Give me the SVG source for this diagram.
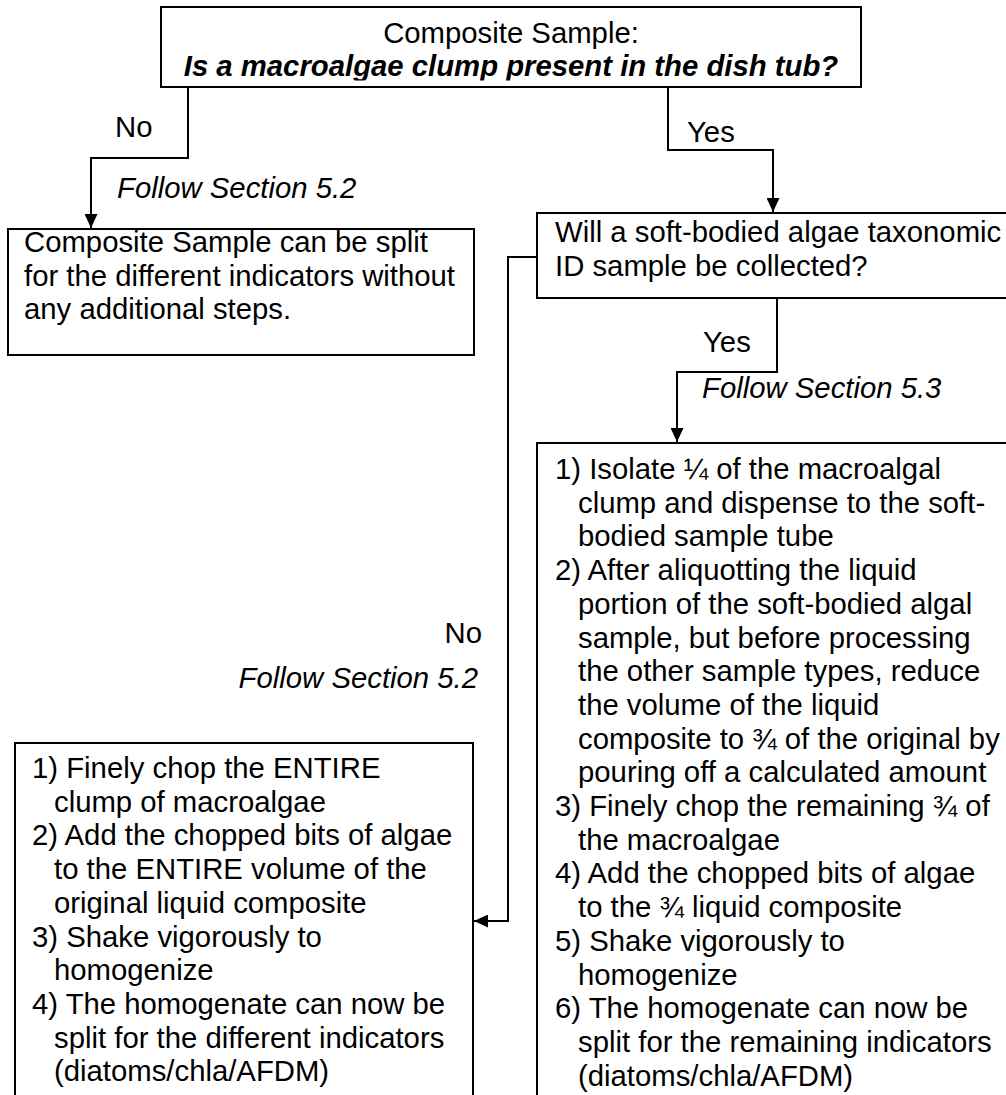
<svg xmlns="http://www.w3.org/2000/svg" width="1006" height="1095" viewBox="0 0 1006 1095">
<style>
  .box { fill: #fff; stroke: #000; stroke-width: 2; }
  .t { font-family: "Liberation Sans", Arial, sans-serif; font-size: 29.3px; fill: #000; }
  .it { font-style: italic; }
  .bi { font-style: italic; font-weight: bold; }
  .conn { fill: none; stroke: #000; stroke-width: 2; }
</style>
<defs>
  <marker id="arr" markerUnits="userSpaceOnUse" viewBox="0 0 14 13" markerWidth="14" markerHeight="13" refX="14" refY="6.5" orient="auto">
    <path d="M0,0 L14,6.5 L0,13 z" fill="#000"/>
  </marker>
  <clipPath id="clipTop"><rect x="161" y="7" width="700" height="73.5"/></clipPath>
</defs>
<rect width="1006" height="1095" fill="#fff"/>

<g id="node-composite">
  <rect class="box" x="161" y="7" width="700" height="80"/>
  <text class="t" x="511" y="43" text-anchor="middle">Composite Sample:</text>
  <text class="t bi" x="511" y="76" text-anchor="middle" clip-path="url(#clipTop)">Is a macroalgae clump present in the dish tub?</text>
</g>

<g id="node-split">
  <rect class="box" x="8" y="229" width="466" height="126"/>
  <text class="t" x="24" y="252">Composite Sample can be split</text>
  <text class="t" x="24" y="285.7">for the different indicators without</text>
  <text class="t" x="24" y="319.4">any additional steps.</text>
</g>

<g id="node-softbodied">
  <rect class="box" x="537" y="213" width="480" height="85"/>
  <text class="t" x="555" y="242">Will a soft-bodied algae taxonomic</text>
  <text class="t" x="555" y="275.7">ID sample be collected?</text>
</g>

<g id="node-entire">
  <rect class="box" x="15" y="743" width="458" height="370"/>
  <text class="t" x="32" y="778">1) Finely chop the ENTIRE</text>
  <text class="t" x="54" y="811.7">clump of macroalgae</text>
  <text class="t" x="32" y="845.4">2) Add the chopped bits of algae</text>
  <text class="t" x="54" y="879.1">to the ENTIRE volume of the</text>
  <text class="t" x="54" y="912.8">original liquid composite</text>
  <text class="t" x="32" y="946.5">3) Shake vigorously to</text>
  <text class="t" x="54" y="980.2">homogenize</text>
  <text class="t" x="32" y="1013.9">4) The homogenate can now be</text>
  <text class="t" x="54" y="1047.6">split for the different indicators</text>
  <text class="t" x="54" y="1081.3">(diatoms/chla/AFDM)</text>
</g>

<g id="node-quarter">
  <rect class="box" x="537" y="443" width="480" height="670"/>
  <text class="t" x="555" y="479">1) Isolate ¼ of the macroalgal</text>
  <text class="t" x="578" y="512.7">clump and dispense to the soft-</text>
  <text class="t" x="578" y="546.4">bodied sample tube</text>
  <text class="t" x="555" y="580.1">2) After aliquotting the liquid</text>
  <text class="t" x="578" y="613.8">portion of the soft-bodied algal</text>
  <text class="t" x="578" y="647.5">sample, but before processing</text>
  <text class="t" x="578" y="681.2">the other sample types, reduce</text>
  <text class="t" x="578" y="714.9">the volume of the liquid</text>
  <text class="t" x="578" y="748.6">composite to ¾ of the original by</text>
  <text class="t" x="578" y="782.3">pouring off a calculated amount</text>
  <text class="t" x="555" y="816">3) Finely chop the remaining ¾ of</text>
  <text class="t" x="578" y="849.7">the macroalgae</text>
  <text class="t" x="555" y="883.4">4) Add the chopped bits of algae</text>
  <text class="t" x="578" y="917.1">to the ¾ liquid composite</text>
  <text class="t" x="555" y="950.8">5) Shake vigorously to</text>
  <text class="t" x="578" y="984.5">homogenize</text>
  <text class="t" x="555" y="1018.2">6) The homogenate can now be</text>
  <text class="t" x="578" y="1051.9">split for the remaining indicators</text>
  <text class="t" x="578" y="1085.6">(diatoms/chla/AFDM)</text>
</g>

<g id="connectors">
  <path class="conn" d="M188,87 V158 H91 V228" marker-end="url(#arr)"/>
  <path class="conn" d="M668,87 V150 H773 V212" marker-end="url(#arr)"/>
  <path class="conn" d="M537,257 H508 V921 H474" marker-end="url(#arr)"/>
  <path class="conn" d="M777,298 V372 H677 V442" marker-end="url(#arr)"/>
  <text class="t" x="115" y="137">No</text>
  <text class="t it" x="117" y="198">Follow Section 5.2</text>
  <text class="t" x="687" y="142">Yes</text>
  <text class="t" x="703" y="352">Yes</text>
  <text class="t it" x="702" y="398">Follow Section 5.3</text>
  <text class="t" x="482" y="643" text-anchor="end">No</text>
  <text class="t it" x="478" y="688" text-anchor="end">Follow Section 5.2</text>
</g>
</svg>
